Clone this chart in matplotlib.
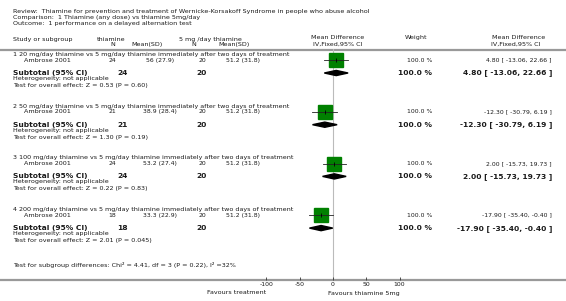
import numpy as np
import matplotlib.pyplot as plt
from matplotlib.patches import Polygon

# data
groups = ['1 20 mg/day thiamine vs 5 mg/day thiamine immediately after two days of treatment',
          '2 50 mg/day thiamine vs 5 mg/day thiamine immediately after two days of treatment',
          '3 100 mg/day thiamine vs 5 mg/day thiamine immediately after two days of treatment',
          '4 200 mg/day thiamine vs 5 mg/day thiamine immediately after two days of treatment']
study = 'Ambrose 2001'
trt_n = [24, 21, 24, 18]
trt_mean = [56, 38.9, 53.2, 33.3]
trt_sd = [27.9, 28.4, 27.4, 22.9]
ctl_n = [20, 20, 20, 20]
ctl_mean = [51.2, 51.2, 51.2, 51.2]
ctl_sd = [31.8, 31.8, 31.8, 31.8]
md = [4.80, -12.30, 2.00, -17.90]
lo = [-13.06, -30.79, -15.73, -35.40]
hi = [22.66, 6.19, 19.73, -0.40]
weight = [100.0, 100.0, 100.0, 100.0]
z = [0.53, 1.30, 0.22, 2.01]
p = ['0.60', '0.19', '0.83', '0.045']
ticks = [-100, -50, 0, 50, 100]

W, H = 566, 301
fs = 4.55     # normal text
fss = 4.4     # study row numbers
fsb = 5.4     # bold subtotal text
txt = '#1a1a1a'
green = '#008000'

fig = plt.figure(figsize=(W / 100, H / 100), dpi=100)
fig.patch.set_facecolor('white')
bg = fig.add_axes([0, 0, 1, 1])
bg.set_xlim(0, W)
bg.set_ylim(H, 0)
bg.axis('off')

# forest plot axis: -100..100 spans pixels 266..400, rows in pixel units
x0, x1 = 266.4, 399.6
y_top, y_bot = 49, 280
ax = fig.add_axes([x0 / W, (H - y_bot) / H, (x1 - x0) / W, (y_bot - y_top) / H])
ax.set_xlim(-100, 100)
ax.set_ylim(y_bot, y_top)
ax.patch.set_visible(False)
for s in ax.spines.values():
    s.set_visible(False)
ax.set_yticks([])
ax.set_xticks(ticks)
ax.set_xticklabels([str(t) for t in ticks])
ax.tick_params(axis='x', direction='in', length=2.5, width=0.6, color='#333333',
               labelsize=fss, labelcolor=txt, pad=1.5)
ax.axvline(0, color='#bbbbbb', lw=0.8, zorder=0)

# header
def t(x, y, s, **kw):
    kw.setdefault('fontsize', fs)
    kw.setdefault('color', txt)
    bg.text(x, y, s, va='center', **kw)

t(13, 12, 'Review:  Thiamine for prevention and treatment of Wernicke-Korsakoff Syndrome in people who abuse alcohol')
t(13, 17.5, 'Comparison:  1 Thiamine (any dose) vs thiamine 5mg/day')
t(13, 23, 'Outcome:  1 performance on a delayed alternation test')

t(13, 39.5, 'Study or subgroup')
t(97, 39.5, 'thiamine')
t(115, 44.5, 'N', ha='right')
t(147, 44.5, 'Mean(SD)', ha='center')
t(179, 39.5, '5 mg /day thiamine')
t(196, 44.5, 'N', ha='right')
t(234, 44.5, 'Mean(SD)', ha='center')
t(338, 37.5, 'Mean Difference', ha='center')
t(338, 44, 'IV,Fixed,95% CI', ha='center')
t(416, 37.5, 'Weight', ha='center')
t(519, 37.5, 'Mean Difference', ha='center')
t(516, 44, 'IV,Fixed,95% CI', ha='center')
bg.plot([0, W], [49.5, 49.5], color='#999999', lw=1.6)

g0, step = 54.5, 51.7
for i in range(len(groups)):
    yg = g0 + i * step
    ys, ysub, yh, yt = yg + 5.7, yg + 18.5, yg + 24, yg + 30.8
    t(13, yg, groups[i])
    t(24, ys, study)
    t(116, ys, str(trt_n[i]), ha='right', fontsize=fss)
    t(160, ys, '%g (%g)' % (trt_mean[i], trt_sd[i]), ha='center', fontsize=fss)
    t(206, ys, str(ctl_n[i]), ha='right', fontsize=fss)
    t(243, ys, '%.1f (%.1f)' % (ctl_mean[i], ctl_sd[i]), ha='center', fontsize=fss)
    t(432, ys, '%.1f %%' % weight[i], ha='right', fontsize=fss)
    t(552, ys, '%.2f [ %.2f, %.2f ]' % (md[i], lo[i], hi[i]), ha='right', fontsize=fss)

    t(13, ysub, 'Subtotal (95% CI)', fontsize=fsb, fontweight='bold')
    t(117, ysub, str(trt_n[i]), fontsize=fsb, fontweight='bold')
    t(196, ysub, str(ctl_n[i]), fontsize=fsb, fontweight='bold')
    t(432, ysub, '%.1f %%' % weight[i], ha='right', fontsize=fsb, fontweight='bold')
    t(552, ysub, '%.2f [ %.2f, %.2f ]' % (md[i], lo[i], hi[i]), ha='right',
      fontsize=fsb, fontweight='bold')
    t(13, yh, 'Heterogeneity: not applicable')
    t(13, yt, 'Test for overall effect: Z = %.2f (P = %s)' % (z[i], p[i]))

    # study square with CI
    ax.plot(md[i], ys, 's', color=green, ms=9.5, mec=green, clip_on=False, zorder=2)
    ax.plot([lo[i], hi[i]], [ys, ys], color='#222222', lw=0.6, clip_on=False, zorder=3)
    ax.plot(md[i], ys, '|', color='black', ms=3, mew=0.6, clip_on=False, zorder=4)
    # pooled diamond
    ax.add_patch(Polygon([(lo[i], ysub), (md[i], ysub - 2.6), (hi[i], ysub), (md[i], ysub + 2.6)],
                         closed=True, color='black', clip_on=False, zorder=3))

t(13, 264.5, 'Test for subgroup differences: Chi\u00b2 = 4.41, df = 3 (P = 0.22), I\u00b2 =32%')

bg.plot([0, W], [280.3, 280.3], color='#999999', lw=1.6)
t(266, 293, 'Favours treatment', ha='right')
t(328, 293, 'Favours thiamine 5mg', ha='left')

fig.savefig('out.png', dpi=100, facecolor='white')
